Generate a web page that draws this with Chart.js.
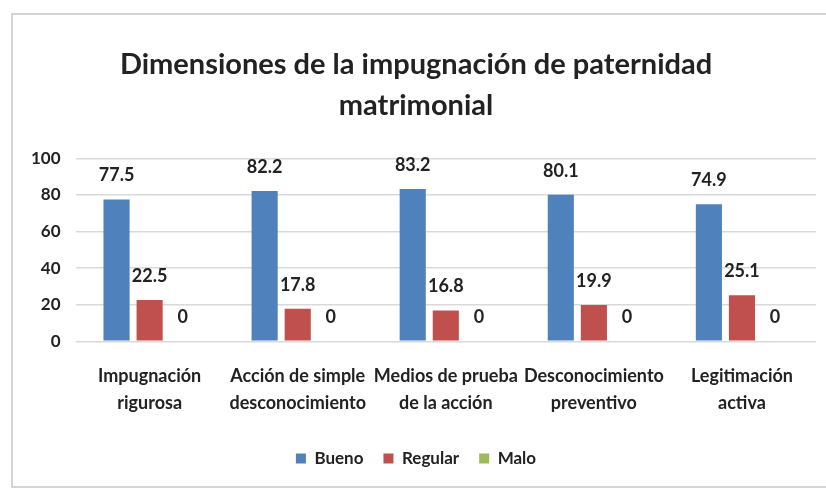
<!DOCTYPE html>
<html>
<head>
<meta charset="utf-8">
<script src="https://cdn.jsdelivr.net/npm/chart.js@4"></script>
<style>
    html, body { margin: 0; padding: 0; background: #fff; }
    #wrap { width: 826px; height: 489px; }
</style>
</head>
<body>
<div id="wrap"><canvas id="main-chart" width="826" height="489"></canvas></div>
<script>
const categories = [
    ["Impugnación", "rigurosa"],
    ["Acción de simple", "desconocimiento"],
    ["Medios de prueba", "de la acción"],
    ["Desconocimiento", "preventivo"],
    ["Legitimación", "activa"],
];
const bueno = [77.5, 82.2, 83.2, 80.1, 74.9];
const regular = [22.5, 17.8, 16.8, 19.9, 25.1];
const malo = [0, 0, 0, 0, 0];
const yTicks = [0, 20, 40, 60, 80, 100];

const FONT = "Lato";

// labels on top of every bar
const valueLabels = {
    id: "valueLabels",
    afterDatasetsDraw(chart) {
        const ctx = chart.ctx;
        ctx.save();
        ctx.font = "bold 18px " + FONT;
        ctx.fillStyle = "#222";
        ctx.textAlign = "center";
        ctx.textBaseline = "middle";
        chart.data.datasets.forEach((ds, i) => {
            chart.getDatasetMeta(i).data.forEach((bar, j) => {
                ctx.fillText(String(ds.data[j]), bar.x, bar.y - 24);
            });
        });
        ctx.restore();
    },
};

// light frame round the chart
const frame = {
    id: "frame",
    beforeDraw(chart) {
        const ctx = chart.ctx;
        ctx.save();
        ctx.strokeStyle = "#d4d4d4";
        ctx.lineWidth = 2;
        ctx.strokeRect(12, 14, 830, 473);
        ctx.restore();
    },
};

new Chart(document.getElementById("main-chart"), {
    type: "bar",
    data: {
        labels: categories,
        datasets: [
            { label: "Bueno", data: bueno, backgroundColor: "#4F81BD" },
            { label: "Regular", data: regular, backgroundColor: "#C0504D" },
            { label: "Malo", data: malo, backgroundColor: "#9BBB59" },
        ],
    },
    options: {
        responsive: false,
        animation: false,
        datasets: {
            bar: { categoryPercentage: 0.67, barPercentage: 0.79 },
        },
        layout: {
            padding: { top: 44, left: 16, right: 10, bottom: 12 },
        },
        scales: {
            x: {
                grid: { display: false },
                border: { display: false },
                ticks: {
                    color: "#222",
                    padding: 13,
                    maxRotation: 0,
                    autoSkip: false,
                    font: { family: FONT, size: 18, weight: "bold", lineHeight: 1.52 },
                },
            },
            y: {
                min: 0,
                max: 100,
                afterBuildTicks(axis) {
                    axis.ticks = yTicks.map((v) => ({ value: v }));
                },
                grid: { color: "#d9d9d9", lineWidth: 1.5, drawTicks: false },
                border: { display: false },
                ticks: {
                    color: "#222",
                    padding: 15,
                    font: { family: FONT, size: 17, weight: "bold" },
                },
            },
        },
        plugins: {
            title: {
                display: true,
                text: ["Dimensiones de la impugnación de paternidad", "matrimonial"],
                color: "#222",
                font: { family: FONT, size: 29, weight: "bold", lineHeight: 1.42 },
                padding: { top: 0, bottom: 32 },
            },
            legend: {
                position: "bottom",
                labels: {
                    color: "#222",
                    boxWidth: 10,
                    boxHeight: 10,
                    padding: 20,
                    font: { family: FONT, size: 17, weight: "bold" },
                },
            },
            tooltip: { enabled: false },
        },
    },
    plugins: [valueLabels, frame],
});
</script>
</body>
</html>
